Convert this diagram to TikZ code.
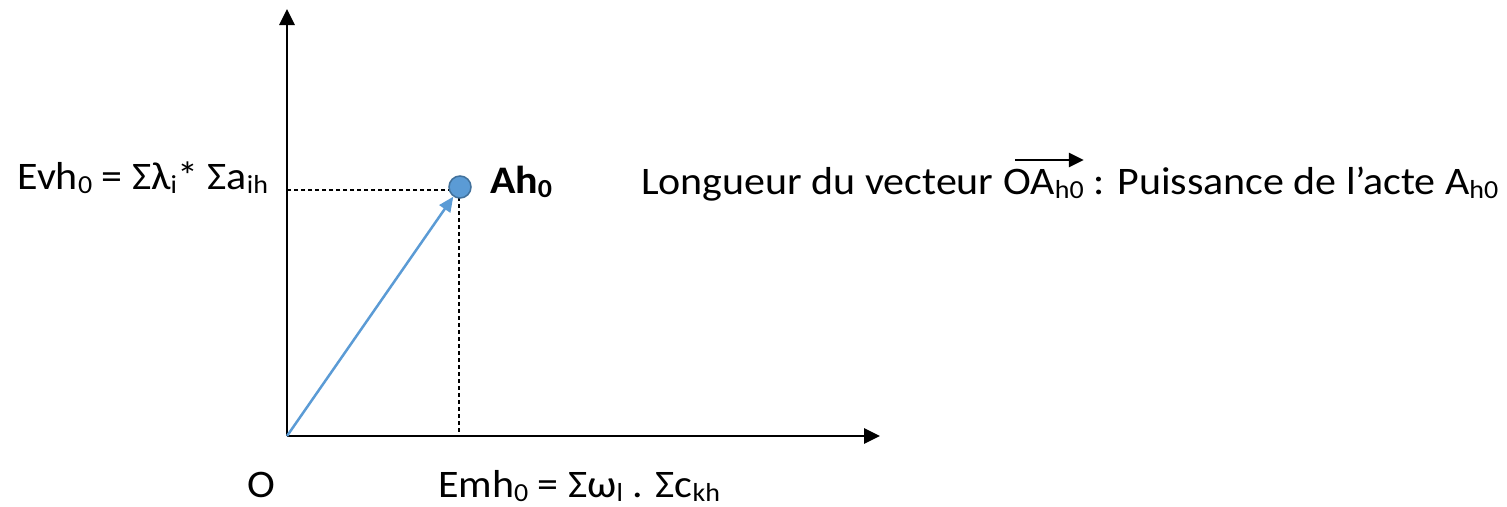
\documentclass[tikz,border=0pt]{standalone}
\usepackage{fontspec}
\setmainfont{Carlito}[FakeStretch=1.076]
\usetikzlibrary{arrows.meta,calc}
\definecolor{vblue}{RGB}{91,155,213}
\definecolor{vbluedark}{RGB}{65,113,156}
\newcommand\lowr[1]{\raisebox{-4.5pt}{\fontsize{26}{26}\selectfont #1}}
\begin{document}
\begin{tikzpicture}[x=1pt,y=-1pt,
  txt/.style={font=\fontsize{39}{45}\selectfont, inner sep=0pt, outer sep=0pt},
  axis/.style={line width=2.8pt, -{Triangle[length=16pt,width=15pt]}},
  guide/.style={line width=1.2pt, dash pattern=on 4pt off 3pt},
  vec/.style={line width=2.5pt, vblue, -{Triangle[length=15pt,width=13pt]}},
  dot/.style={circle, minimum size=22pt, inner sep=0pt, fill=vblue, draw=vbluedark, line width=1.5pt},
  over/.style={line width=2.8pt, -{Triangle[length=15pt,width=14pt]}}]
\useasboundingbox (0,0) rectangle (1507,506);
\coordinate (O) at (287,436);
\coordinate (yend) at (287,9);
\coordinate (xend) at (880,436);
\coordinate (Ac) at (460,187);
\coordinate (G) at (459,190);
\draw[guide] (G) -- (G -| O);
\draw[guide] (G) -- (G |- O);
\draw[axis] (O) -- (yend);
\draw[axis] (O) -- (xend);
\node[dot] (A) at (Ac) {};
\draw[vec] (O) -- (A);
\node[txt, anchor=base east] (ev) at (268,189) {Evh\lowr{0} = Σλ\lowr{i}* Σa\lowr{ih}};
\node[txt, anchor=base west] (ah) at (490,193) {\textbf{Ah\lowr{0}}};
\node[txt, anchor=base west] (l1) at (641,194) {Longueur du vecteur\hspace*{0.25em}};
\node[txt, anchor=base west] (oa) at (l1.base east) {OA\lowr{h0}};
\node[txt, anchor=base west] (l2) at (oa.base east) {\hspace*{0.25em}: Puissance de l’acte A\lowr{h0}};
\coordinate (oas) at ($(oa.west |- 0,160)+(12,0)$);
\coordinate (oae) at (oa.east |- 0,160);
\draw[over] (oas) -- (oae);
\node[txt, anchor=base west] (on) at (247,497) {O};
\node[txt, anchor=base west] (em) at (438,497) {Emh\lowr{0} = Σω\lowr{l} . Σc\lowr{kh}};
\end{tikzpicture}
\end{document}
